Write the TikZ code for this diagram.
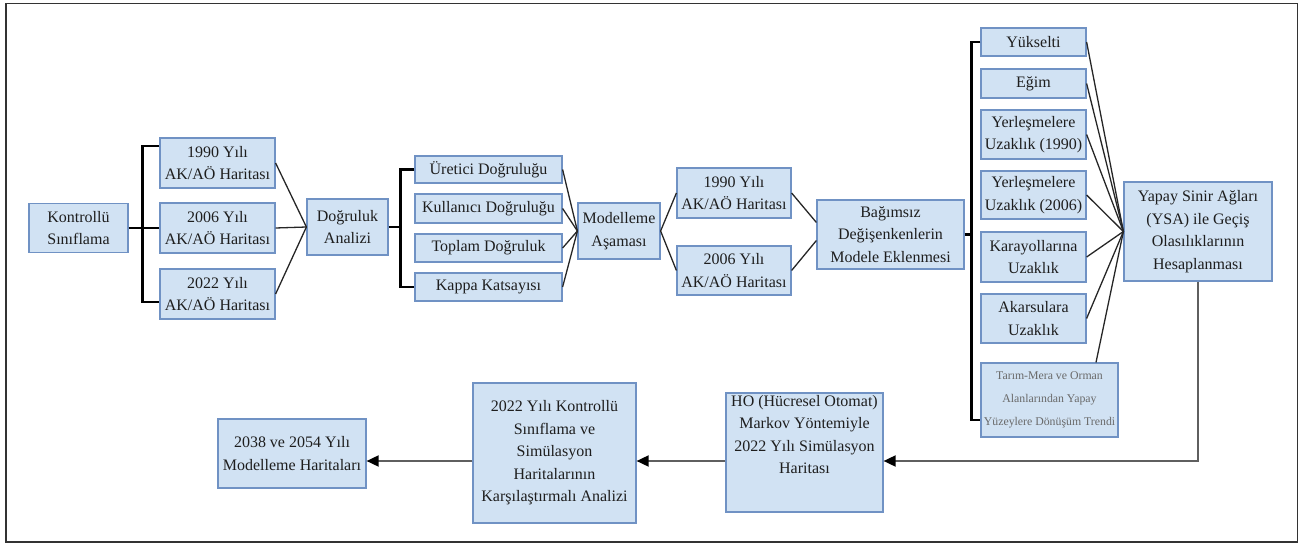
\documentclass[tikz,border=0pt]{standalone}
\usepackage{fontspec}
\setmainfont{Liberation Serif}
\usetikzlibrary{arrows.meta}
\definecolor{boxfill}{RGB}{209,226,243}
\definecolor{boxline}{RGB}{112,146,196}
\definecolor{txt}{RGB}{30,30,30}
\definecolor{arrowgray}{RGB}{95,95,95}
\definecolor{faint}{RGB}{105,105,105}

\begin{document}
\begin{tikzpicture}[x=1pt, y=-1pt,
    box/.style={draw=boxline, line width=1.2pt, fill=boxfill, align=center, inner sep=2pt, text=txt, font=\fontsize{16}{22.5}\selectfont},
    link/.style={line width=1.3pt, black!85},
    bracket/.style={line width=2.6pt, black},
    flow/.style={line width=1.8pt, arrowgray, -{Triangle[length=12pt, width=11pt, color=black]}}]
    \useasboundingbox (0,0) rectangle (1300,545);
    \draw[line width=1.6pt, black!80] (6,3.5) rectangle (1297.5,542);

    % first row
    \node[box, minimum width=99, minimum height=49] (kontrol) at (78.5,228) {Kontrollü\\Sınıflama};
    \node[box, minimum width=115, minimum height=50] (h1990) at (217.5,163) {1990 Yılı\\AK/AÖ Haritası};
    \node[box, minimum width=115, minimum height=50] (h2006) at (217.5,228) {2006 Yılı\\AK/AÖ Haritası};
    \node[box, minimum width=115, minimum height=50] (h2022) at (217.5,294) {2022 Yılı\\AK/AÖ Haritası};
    \node[box, minimum width=81, minimum height=56] (dogruluk) at (347.5,227) {Doğruluk\\Analizi};
    \node[box, minimum width=147, minimum height=27] (uretici) at (488.5,169.5) {Üretici Doğruluğu};
    \node[box, minimum width=147, minimum height=29] (kullanici) at (488.5,208.5) {Kullanıcı Doğruluğu};
    \node[box, minimum width=147, minimum height=28] (toplam) at (488.5,248) {Toplam Doğruluk};
    \node[box, minimum width=147, minimum height=28] (kappa) at (488.5,287) {Kappa Katsayısı};
    \node[box, minimum width=82, minimum height=56] (modelleme) at (619,231) {Modelleme\\Aşaması};
    \node[box, minimum width=114, minimum height=50] (m1990) at (734,193) {1990 Yılı\\AK/AÖ Haritası};
    \node[box, minimum width=114, minimum height=49] (m2006) at (734,270.5) {2006 Yılı\\AK/AÖ Haritası};
    \node[box, minimum width=147, minimum height=69] (bagimsiz) at (890.5,234.5) {Bağımsız\\Değişenkenlerin\\Modele Eklenmesi};

    % variables
    \node[box, minimum width=105, minimum height=28] (yukselti) at (1033.5,42) {Yükselti};
    \node[box, minimum width=105, minimum height=29] (egim) at (1033.5,83.5) {Eğim};
    \node[box, minimum width=105, minimum height=49] (yer1990) at (1033.5,134.5) {Yerleşmelere\\Uzaklık (1990)};
    \node[box, minimum width=105, minimum height=48] (yer2006) at (1033.5,195) {Yerleşmelere\\Uzaklık (2006)};
    \node[box, minimum width=105, minimum height=50] (karayol) at (1033.5,257) {Karayollarına\\Uzaklık};
    \node[box, minimum width=105, minimum height=49] (akarsu) at (1033.5,318.5) {Akarsulara\\Uzaklık};
    \node[box, minimum width=137, minimum height=74, inner xsep=0.5pt, text=faint, font=\fontsize{11.8}{23}\selectfont] (tarim) at (1049.5,400) {Tarım-Mera ve Orman\\Alanlarından Yapay\\Yüzeylere Dönüşüm Trendi};
    \node[box, minimum width=148, minimum height=99] (ysa) at (1198,231.5) {Yapay Sinir Ağları\\(YSA) ile Geçiş\\Olasılıklarının\\Hesaplanması};

    % second row
    \node[box, minimum width=157, minimum height=113] (ho) at (804.5,452.5) {HO (Hücresel Otomat)\\Markov Yöntemiyle\\2022 Yılı Simülasyon\\Haritası\\[14pt]};
    \node[box, minimum width=163, minimum height=140] (compare) at (554.5,453) {2022 Yılı Kontrollü\\Sınıflama ve\\Simülasyon\\Haritalarının\\Karşılaştırmalı Analizi};
    \node[box, minimum width=148, minimum height=69] (final) at (292,453.5) {2038 ve 2054 Yılı\\Modelleme Haritaları};

    % brackets
    \draw[bracket] (kontrol.east) -- (h2006.west);
    \draw[bracket] ([yshift=17pt]h1990.west) -| ([xshift=-17pt,yshift=-8pt]h2022.west) -- ([yshift=-8pt]h2022.west);
    \draw[bracket] (dogruluk.east) -- ([xshift=-14pt]uretici.west |- dogruluk.east);
    \draw[bracket] (uretici.west) -| ([xshift=-14pt]kappa.west) -- (kappa.west);
    \draw[bracket] (bagimsiz.east) -- ([xshift=-9pt]yukselti.west |- bagimsiz.east);
    \draw[bracket] (yukselti.west) -| ([xshift=-9pt]yukselti.west |- 0,420) -- (tarim.west |- 0,420);

    % links
    \foreach \n in {h1990,h2006,h2022}
        \draw[link] (\n.east) -- (dogruluk.west);
    \foreach \n in {uretici,kullanici,toplam,kappa}
        \draw[link] (\n.east) -- (modelleme.west);
    \draw[link] (modelleme.east) -- (m1990.west);
    \draw[link] (modelleme.east) -- (m2006.west);
    \draw[link] (m1990.east) -- ([yshift=12pt]bagimsiz.west);
    \draw[link] (m2006.east) -- ([yshift=-6pt]bagimsiz.west);
    \foreach \n in {yukselti,egim,yer1990,yer2006,karayol,akarsu}
        \draw[link] (\n.east) -- (ysa.west);
    \draw[link] ([xshift=46.5pt]tarim.north) -- (ysa.west);

    % arrows
    \coordinate (row) at (0,461);
    \draw[flow] (ysa.south) |- (ho.east |- row);
    \draw[flow] (ho.west |- row) -- (compare.east |- row);
    \draw[flow] (compare.west |- row) -- (final.east |- row);
\end{tikzpicture}
\end{document}
